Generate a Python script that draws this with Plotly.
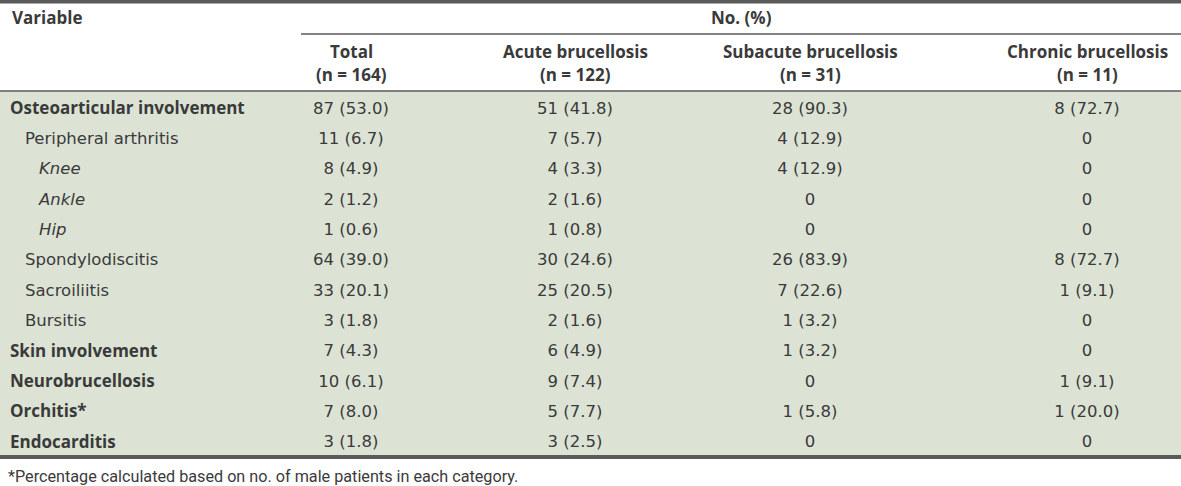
import plotly.graph_objects as go

# ---- data ----
variables = ["Osteoarticular involvement", "Peripheral arthritis", "Knee", "Ankle", "Hip",
             "Spondylodiscitis", "Sacroiliitis", "Bursitis", "Skin involvement",
             "Neurobrucellosis", "Orchitis*", "Endocarditis"]
levels = [0, 1, 2, 2, 2, 1, 1, 1, 0, 0, 0, 0]

total_n = [87, 11, 8, 2, 1, 64, 33, 3, 7, 10, 7, 3]
total_pct = [53.0, 6.7, 4.9, 1.2, 0.6, 39.0, 20.1, 1.8, 4.3, 6.1, 8.0, 1.8]
acute_n = [51, 7, 4, 2, 1, 30, 25, 2, 6, 9, 5, 3]
acute_pct = [41.8, 5.7, 3.3, 1.6, 0.8, 24.6, 20.5, 1.6, 4.9, 7.4, 7.7, 2.5]
subacute_n = [28, 4, 4, 0, 0, 26, 7, 1, 1, 0, 1, 0]
subacute_pct = [90.3, 12.9, 12.9, None, None, 83.9, 22.6, 3.2, 3.2, None, 5.8, None]
chronic_n = [8, 0, 0, 0, 0, 8, 1, 0, 0, 1, 1, 0]
chronic_pct = [72.7, None, None, None, None, 72.7, 9.1, None, None, 9.1, 20.0, None]

group_names = ["Total", "Acute brucellosis", "Subacute brucellosis", "Chronic brucellosis"]
group_sizes = [164, 122, 31, 11]
footnote = "*Percentage calculated based on no. of male patients in each category."

# ---- layout constants ----
W, H = 1181, 486
ROW0, ROWH = 109.5, 30.35          # pixel centre of first row, row pitch
col_x = [351, 575, 810, 1087]      # column centres (px)
indent_x = {0: 10, 1: 25, 2: 39}
TXT = "#3a3a3a"
LINE = "#5a5a5a"
BG = "#dce3d5"
BOLD_FONT = "Open Sans"
REG_FONT = "DejaVu Sans"
BOLD_SIZE = 17
REG_SIZE = 16.5


def row_to_y(px):
    return (px - ROW0) / ROWH


def fmt(n, p):
    return f"{n}" if p is None else f"{n} ({p:.1f})"


rows = list(range(len(variables)))

fig = go.Figure()

# labels, split by style
for lv, fam, size, wrap in [(0, BOLD_FONT, BOLD_SIZE, "<b>{}</b>"),
                            (1, REG_FONT, REG_SIZE, "{}"),
                            (2, REG_FONT, REG_SIZE, "<i>{}</i>")]:
    idx = [i for i, l in enumerate(levels) if l == lv]
    fig.add_trace(go.Scatter(
        x=[indent_x[lv]] * len(idx), y=[rows[i] for i in idx], mode="text",
        text=[wrap.format(variables[i]) for i in idx],
        textposition="middle right", textfont=dict(family=fam, size=size, color=TXT),
        hoverinfo="skip", showlegend=False))

series = [(total_n, total_pct), (acute_n, acute_pct), (subacute_n, subacute_pct), (chronic_n, chronic_pct)]
for cx, (ns, ps) in zip(col_x, series):
    fig.add_trace(go.Scatter(
        x=[cx] * len(ns), y=rows, mode="text",
        text=[fmt(n, p) for n, p in zip(ns, ps)],
        textposition="middle center", textfont=dict(family=REG_FONT, size=REG_SIZE, color=TXT),
        hoverinfo="skip", showlegend=False))

BODY_TOP, BODY_BOT = 91, 457
shapes = []
shapes.append(dict(type="rect", xref="x", yref="y", x0=0, x1=W, y0=row_to_y(BODY_TOP), y1=row_to_y(BODY_BOT),
                   fillcolor=BG, line=dict(width=0), layer="below"))
shapes.append(dict(type="line", xref="x", yref="y", x0=0, x1=W, y0=row_to_y(1.5), y1=row_to_y(1.5),
                   line=dict(color=LINE, width=4)))
shapes.append(dict(type="line", xref="x", yref="y", x0=301, x1=W, y0=row_to_y(34), y1=row_to_y(34),
                   line=dict(color=LINE, width=1.5)))
shapes.append(dict(type="line", xref="x", yref="y", x0=0, x1=W, y0=row_to_y(BODY_TOP), y1=row_to_y(BODY_TOP),
                   line=dict(color=LINE, width=1.5)))
shapes.append(dict(type="line", xref="x", yref="y", x0=0, x1=W, y0=row_to_y(BODY_BOT), y1=row_to_y(BODY_BOT),
                   line=dict(color=LINE, width=4)))

ann = []
hfont = dict(family=BOLD_FONT, size=BOLD_SIZE, color=TXT)
ann.append(dict(x=10, y=row_to_y(17), xref="x", yref="y", text="<b>Variable</b>", showarrow=False,
                xanchor="left", yanchor="middle", font=hfont))
ann.append(dict(x=741, y=row_to_y(17), xref="x", yref="y", text="<b>No. (%)</b>", showarrow=False,
                xanchor="center", yanchor="middle", font=hfont))
for cx, g, s in zip(col_x, group_names, group_sizes):
    ann.append(dict(x=cx, y=row_to_y(51), xref="x", yref="y", text=f"<b>{g}</b>", showarrow=False,
                    xanchor="center", yanchor="middle", font=hfont))
    ann.append(dict(x=cx, y=row_to_y(74), xref="x", yref="y", text=f"<b>(n = {s})</b>", showarrow=False,
                    xanchor="center", yanchor="middle", font=hfont))
ann.append(dict(x=6, y=row_to_y(476), xref="x", yref="y", text=footnote, showarrow=False,
                xanchor="left", yanchor="middle", font=dict(family="Roboto", size=16.2, color=TXT)))

fig.update_layout(
    width=W, height=H, margin=dict(l=0, r=0, t=0, b=0),
    paper_bgcolor="white", plot_bgcolor="white",
    xaxis=dict(range=[0, W], visible=False, fixedrange=True),
    yaxis=dict(range=[row_to_y(H), row_to_y(0)], visible=False, fixedrange=True),
    shapes=shapes, annotations=ann, showlegend=False,
)
fig.write_html("out.html", config={"displayModeBar": False},
               post_script="document.body.style.margin='0px';document.body.style.overflow='hidden';")
